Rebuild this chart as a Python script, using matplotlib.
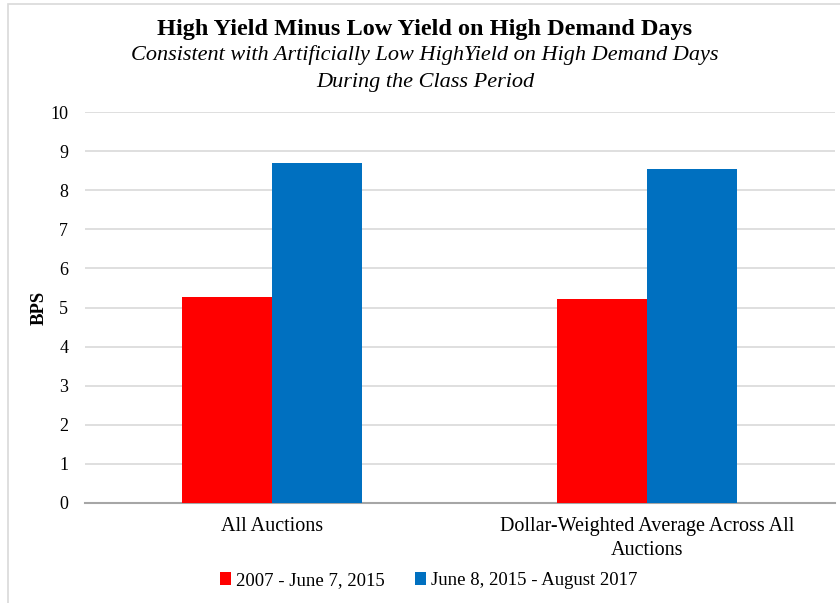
import matplotlib
matplotlib.use("Agg")
from matplotlib import pyplot as plt
from matplotlib.patches import Rectangle
import numpy as np

categories = ["All Auctions", "Dollar-Weighted Average Across All\nAuctions"]
series_names = ["2007 - June 7, 2015", "June 8, 2015 - August 2017"]
before = [5.28, 5.21]
after = [8.69, 8.54]
colors = ["#ff0000", "#0070c0"]

plt.rcParams['font.family'] = ['Liberation Serif', 'DejaVu Serif']

fig = plt.figure(figsize=(8.4, 6.03), dpi=100)
ax = fig.add_axes([0.101, 0.166, 0.893, 0.648])

x = np.arange(len(categories))
w = 0.24
ax.bar(x - w/2, before, w, color=colors[0], label=series_names[0], zorder=3)
ax.bar(x + w/2, after, w, color=colors[1], label=series_names[1], zorder=3)

ax.set_xlim(-0.5, 1.5)
ax.set_ylim(0, 10)
ax.set_yticks(range(0, 11))
ax.yaxis.grid(True, color="#d9d9d9", linewidth=1.2, zorder=0)
ax.set_axisbelow(True)
for s in ["top", "right", "left"]:
    ax.spines[s].set_visible(False)
ax.spines["bottom"].set_color("#a6a6a6")
ax.spines["bottom"].set_linewidth(1.5)
ax.tick_params(axis="both", length=0, colors="#000000")
ax.tick_params(axis="y", pad=12, labelsize=13)
ax.tick_params(axis="x", pad=10, labelsize=14.5)
ax.set_xticks(x)
ax.set_xticklabels(categories, linespacing=1.35)
ax.set_ylabel("BPS", fontsize=13.5, fontweight="bold")
ax.yaxis.set_label_coords(-0.05, 0.5)

fig.text(0.506, 0.951, "High Yield Minus Low Yield on High Demand Days",
         ha="center", va="center", fontsize=17.5, fontweight="bold")
fig.text(0.506, 0.908, "Consistent with Artificially Low HighYield on High Demand Days",
         ha="center", va="center", fontsize=16, style="italic")
fig.text(0.506, 0.864, "During the Class Period",
         ha="center", va="center", fontsize=16, style="italic")

fig.legend(loc="center", bbox_to_anchor=(0.51, 0.037), ncol=2, frameon=False,
           fontsize=13.5, handlelength=0.6, handleheight=0.7, handletextpad=0.25,
           columnspacing=1.6)

fig.patches.append(Rectangle((0.01, -0.01), 1.0, 1.003, transform=fig.transFigure,
                             fill=False, edgecolor="#d9d9d9", linewidth=1.2))

fig.savefig("out.png", dpi=100)
